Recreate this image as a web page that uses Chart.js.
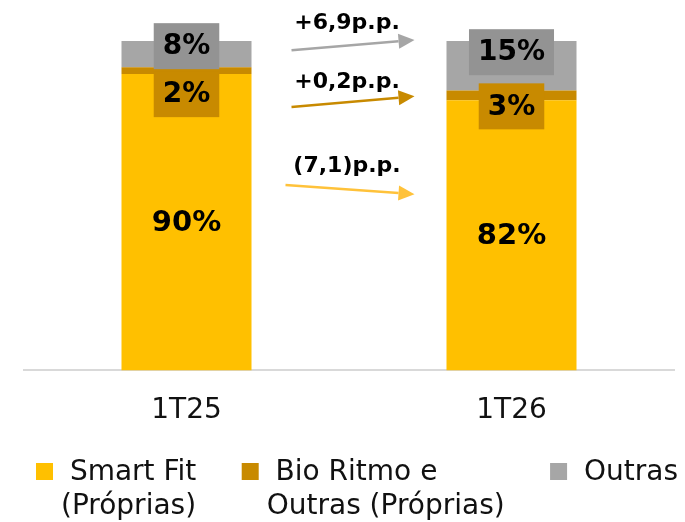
<!DOCTYPE html>
<html><head><meta charset="utf-8">
<script src="https://cdn.jsdelivr.net/npm/chart.js@4"></script>
<style>html,body{margin:0;padding:0;background:#fff}</style>
</head><body>
<canvas id="c" width="685" height="522"></canvas>
<script>
// ---- data ----
const categories = ['1T25', '1T26'];
const seriesNames = ['Smart Fit (Próprias)', 'Bio Ritmo e Outras (Próprias)', 'Outras'];
const legendLines = [['Smart Fit', '(Próprias)'], ['Bio Ritmo e', 'Outras (Próprias)'], ['Outras']];
const smartFit = [90, 82];
const bioRitmo = [2, 3];
const outras = [8, 15];
const changeLabels = ['(7,1)p.p.', '+0,2p.p.', '+6,9p.p.'];

// ---- styles ----
const FONT = "'DejaVu Sans', sans-serif";
const barColors = ['#FFC000', '#C88A00', '#A6A6A6'];
const boxColors = [null, '#C88A00', '#939393'];
const arrowColors = ['#FFC23A', '#C88A00', '#A6A6A6'];

// annotation layout (value units on the y axis, pixel gaps on x)
const arrowCfg = [
  { from: 56.3, to: 53.5, text: 62.0, gapStart: 34 },
  { from: 80.0, to: 83.2, text: 87.5, gapStart: 40 },
  { from: 97.2, to: 100.3, text: 105.5, gapStart: 40 }
];
// label box centre offsets (px) relative to segment centre, per dataset per category
const boxOffsets = [null, [23.5, 11], [-8, -13.5]];

const labelPlugin = {
  id: 'segLabels',
  afterDatasetsDraw(chart) {
    const ctx = chart.ctx;
    ctx.save();
    chart.data.datasets.forEach((ds, di) => {
      const meta = chart.getDatasetMeta(di);
      meta.data.forEach((el, i) => {
        const p = el.getProps(['x', 'y', 'base'], true);
        const cy = (p.y + p.base) / 2;
        const txt = ds.data[i] + '%';
        if (di === 0) {
          ctx.font = 'bold 29px ' + FONT;
          ctx.fillStyle = '#000';
          ctx.textAlign = 'center';
          ctx.textBaseline = 'middle';
          ctx.fillText(txt, p.x, cy + 1);
        } else {
          ctx.font = 'bold 28px ' + FONT;
          const w = ctx.measureText(txt).width + 18;
          const h = 46;
          const by = cy + boxOffsets[di][i];
          ctx.fillStyle = boxColors[di];
          ctx.fillRect(p.x - w / 2, by - h / 2, w, h);
          ctx.fillStyle = '#000';
          ctx.textAlign = 'center';
          ctx.textBaseline = 'middle';
          ctx.fillText(txt, p.x, by + 1);
        }
      });
    });
    ctx.restore();
  }
};

const arrowPlugin = {
  id: 'arrows',
  afterDatasetsDraw(chart) {
    const ctx = chart.ctx;
    const ys = chart.scales.y;
    const m = chart.getDatasetMeta(0);
    const b1 = m.data[0].getProps(['x', 'width'], true);
    const b2 = m.data[1].getProps(['x', 'width'], true);
    const right1 = b1.x + b1.width / 2;
    const left2 = b2.x - b2.width / 2;
    ctx.save();
    arrowCfg.forEach((a, i) => {
      const x0 = right1 + a.gapStart, x1 = left2 - 32;
      const y0 = ys.getPixelForValue(a.from), y1 = ys.getPixelForValue(a.to);
      const ang = Math.atan2(y1 - y0, x1 - x0);
      const hl = 16, hw = 7.5;
      const bx = x1 - hl * Math.cos(ang), by = y1 - hl * Math.sin(ang);
      ctx.strokeStyle = arrowColors[i];
      ctx.fillStyle = arrowColors[i];
      ctx.lineWidth = 2.5;
      ctx.beginPath();
      ctx.moveTo(x0, y0);
      ctx.lineTo(bx, by);
      ctx.stroke();
      ctx.beginPath();
      ctx.moveTo(x1, y1);
      ctx.lineTo(bx + hw * Math.sin(ang), by - hw * Math.cos(ang));
      ctx.lineTo(bx - hw * Math.sin(ang), by + hw * Math.cos(ang));
      ctx.closePath();
      ctx.fill();
      ctx.font = 'bold 22px ' + FONT;
      ctx.fillStyle = '#000';
      ctx.textAlign = 'center';
      ctx.textBaseline = 'middle';
      ctx.fillText(changeLabels[i], (right1 + 40 + x1) / 2 - 6, ys.getPixelForValue(a.text));
    });
    ctx.restore();
  }
};

const legendPlugin = {
  id: 'customLegend',
  afterDraw(chart) {
    const ctx = chart.ctx;
    ctx.save();
    ctx.font = '28px ' + FONT;
    const box = 17, gap = 8;
    const sp = ctx.measureText(' ').width;
    const widths = legendLines.map((lines, i) => {
      const tw = Math.max(...lines.map((l, k) => ctx.measureText(l).width + (k === 0 ? sp : 0)));
      return box + gap + tw;
    });
    const left = 36, right = 678;
    const total = widths.reduce((s, w) => s + w, 0);
    const spacing = (right - left - total) / (widths.length - 1);
    let x = left;
    const y1 = 471.5, lh = 34.5;
    legendLines.forEach((lines, i) => {
      ctx.fillStyle = barColors[i];
      ctx.fillRect(x, y1 - 8.5, box, box);
      ctx.fillStyle = '#111';
      ctx.textAlign = 'left';
      ctx.textBaseline = 'middle';
      lines.forEach((l, k) => {
        ctx.fillText(k === 0 ? ' ' + l : l, x + box + gap, y1 + k * lh + 1);
      });
      x += widths[i] + spacing;
    });
    ctx.restore();
  }
};

new Chart(document.getElementById('c'), {
  type: 'bar',
  data: {
    labels: categories,
    datasets: [
      { label: seriesNames[0], data: smartFit, backgroundColor: barColors[0] },
      { label: seriesNames[1], data: bioRitmo, backgroundColor: barColors[1] },
      { label: seriesNames[2], data: outras, backgroundColor: barColors[2] }
    ]
  },
  options: {
    responsive: false,
    animation: false,
    devicePixelRatio: 1,
    layout: { padding: { left: 24, right: 11, top: 41, bottom: 70 } },
    datasets: { bar: { barPercentage: 0.4, categoryPercentage: 1, borderWidth: 0 } },
    plugins: { legend: { display: false }, tooltip: { enabled: false } },
    scales: {
      x: {
        stacked: true,
        grid: { display: false, drawTicks: false },
        border: { display: true, color: '#D9D9D9', width: 2 },
        ticks: { color: '#111', padding: 24, font: { family: FONT, size: 28 } }
      },
      y: { stacked: true, display: false, min: 0, max: 100 }
    }
  },
  plugins: [labelPlugin, arrowPlugin, legendPlugin]
});
</script>
</body></html>
